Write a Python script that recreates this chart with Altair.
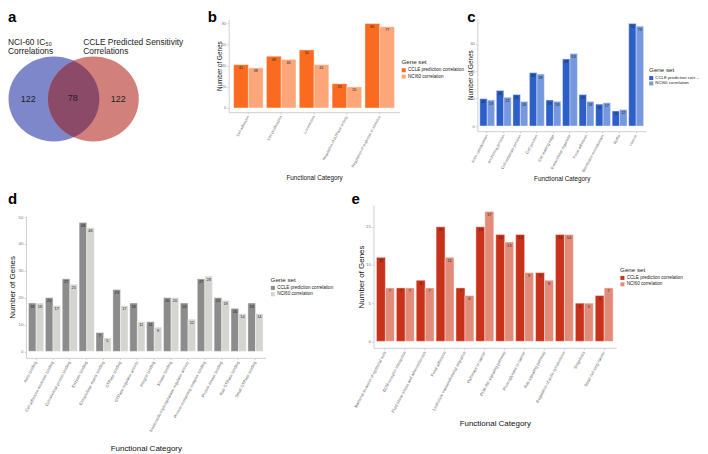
import altair as alt
import pandas as pd

FONT = "Liberation Sans"
SETS = ["CCLE prediction correlation", "NCI60 correlation"]

# ---------------- data ----------------
venn_left_header = ["NCI-60 IC\u2085\u2080", "Correlations"]
venn_right_header = ["CCLE Predicted Sensitivity", "Correlations"]
venn_counts = [122, 78, 122]

b_categories = ["Cell adhesion", "Cell proliferation", "Locomotion",
                "Regulation of GTPase activity", "Regulation of response to stimulus"]
b_ccle = [41, 49, 55, 23, 80]
b_nci = [38, 46, 41, 20, 77]

c_categories = ["Actin cytoskeleton", "Anchoring junction", "Cell-substrate junction",
                "Cell junction", "Cell leading edge", "Extracellular organelle",
                "Focal adhesion", "Membrane microdomain", "Ruffle", "Vesicle"]
c_ccle = [20, 26, 23, 39, 19, 49, 23, 16, 11, 75]
c_nci = [19, 21, 18, 38, 18, 53, 18, 17, 12, 73]

d_categories = ["Actin binding", "Cell adhesion molecule binding", "Cytoskeletal protein binding",
                "Enzyme binding", "Extracellular matrix binding", "GTPase binding",
                "GTPase regulator activity", "Integrin binding", "Kinase binding",
                "Nucleoside-triphosphatase regulator activity", "Protein-containing complex binding",
                "Protein kinase binding", "Ras GTPase binding", "Small GTPase binding"]
d_ccle = [18, 20, 27, 48, 7, 23, 18, 11, 20, 18, 27, 20, 16, 18]
d_nci = [18, 17, 25, 46, 5, 17, 11, 9, 20, 12, 28, 19, 14, 14]

e_categories = ["Bacterial invasion of epithelial cells", "ECM-receptor interaction",
                "Fluid shear stress and atherosclerosis", "Focal adhesion",
                "Leukocyte transendothelial migration", "Pathways in cancer",
                "PI3K-Akt signaling pathway", "Proteoglycans in cancer", "Ras signaling pathway",
                "Regulation of actin cytoskeleton", "Shigellosis", "Small cell lung cancer"]
e_ccle = [11, 7, 8, 15, 7, 15, 14, 14, 9, 14, 5, 6]
e_nci = [7, 7, 7, 11, 6, 17, 13, 9, 8, 14, 5, 7]


def panel_letter(letter, dx, by):
    return alt.Chart(pd.DataFrame({"letter": [letter]})).mark_text(
        fontSize=15, fontWeight="bold", color="#000", align="left",
        baseline="alphabetic", font=FONT
    ).encode(text="letter:N", x=alt.value(dx), y=alt.value(by))


def bar_panel(letter, cats, ccle, nci, colors, plot_w, view_w, plot_top, plot_h, view_h,
              ydom, yticks, legend_xy, ytitle_x, xtitle_y, title_fs, tick_fs, xlab_fs,
              val_fs, letter_xy, label_limit=200, legend_fs=4.6):
    df = pd.DataFrame({
        "Category": list(cats) * 2,
        "Gene set": [SETS[0]] * len(cats) + [SETS[1]] * len(cats),
        "Genes": list(ccle) + list(nci),
    })
    x = alt.X("Category:N", sort=list(cats),
              scale=alt.Scale(range=[0, plot_w], paddingInner=0.1, paddingOuter=0.15),
              axis=alt.Axis(title="Functional Category", labelAngle=-62, labelAlign="right",
                            labelBaseline="middle", labelFontSize=xlab_fs, labelPadding=1.5,
                            labelOverlap=False, labelColor="#666",
                            offset=-(view_h - plot_top - plot_h),
                            titleX=plot_w / 2, titleY=xtitle_y, titleAlign="center",
                            titleBaseline="top", titleFontSize=title_fs,
                            titleFontWeight="normal", titleColor="#111"))
    xo = alt.XOffset("Gene set:N", sort=SETS, scale=alt.Scale(paddingInner=0, paddingOuter=0))
    y = alt.Y("Genes:Q",
              scale=alt.Scale(domain=ydom, nice=False, zero=False,
                              range=[plot_top + plot_h, plot_top]),
              axis=alt.Axis(values=yticks, title="Number of Genes", labelFontSize=tick_fs,
                            labelColor="#777", labelPadding=1,
                            titleX=ytitle_x, titleY=plot_top + plot_h / 2, titleAngle=270,
                            titleAlign="center", titleBaseline="middle",
                            titleFontSize=title_fs, titleFontWeight="normal",
                            titleColor="#111"))
    color = alt.Color("Gene set:N", sort=SETS,
                      scale=alt.Scale(domain=SETS, range=colors),
                      legend=alt.Legend(orient="none", legendX=legend_xy[0], legendY=legend_xy[1],
                                        title="Gene set", titleFontSize=6.2,
                                        titleFontWeight="normal", titleColor="#222",
                                        titlePadding=2.5, labelFontSize=legend_fs,
                                        labelColor="#222", labelLimit=label_limit,
                                        symbolType="square", symbolSize=16,
                                        symbolStrokeWidth=0, rowPadding=0.4, labelOffset=2,
                                        symbolOffset=0, padding=0))
    base = alt.Chart(df)
    bars = base.mark_bar(stroke="white", strokeWidth=0.4).encode(
        x=x, xOffset=xo, y=y, y2=alt.datum(0), color=color)
    labels = base.mark_text(baseline="top", dy=1.5, fontSize=val_fs, color="#222",
                            font=FONT).encode(x=x, xOffset=xo, y=y, text="Genes:Q")
    return alt.layer(bars, labels, panel_letter(letter, *letter_xy)).properties(
        width=view_w, height=view_h)


# ---------------- panel a : Venn ----------------
RX, RY, U = 45.5, 42.5, 50.0
half_d = 19.75
h = RY * (1 - (half_d / RX) ** 2) ** 0.5
ell = "M {a} 0 A {rx} {ry} 0 1 0 {b} 0 A {rx} {ry} 0 1 0 {a} 0 Z".format(
    a=-RX / U, b=RX / U, rx=RX / U, ry=RY / U)
lens = "M 0 {t} A {rx} {ry} 0 0 1 0 {bt} A {rx} {ry} 0 0 1 0 {t} Z".format(
    t=-h / U, bt=h / U, rx=RX / U, ry=RY / U)
cx_left, cx_right, cy = 54.0, 93.5, 95.8

circles = pd.DataFrame({
    "vx": [cx_left, cx_right], "vy": [cy, cy],
    "shape": [ell, ell], "fill": ["#7f87cb", "#d2807b"],
})
lens_df = pd.DataFrame({"vx": [(cx_left + cx_right) / 2], "vy": [cy], "shape": [lens],
                        "fill": ["#8c4a69"]})
counts_df = pd.DataFrame({"vx": [28.3, 72.8, 118.3], "vy": [96.0, 95.0, 96.0],
                          "label": [str(v) for v in venn_counts]})
headers_df = pd.DataFrame({
    "vx": [8.0, 8.0, 83.3, 83.3],
    "vy": [41.7, 51.2, 41.7, 51.2],
    "label": venn_left_header + venn_right_header,
})

vx = alt.X("vx:Q", scale=alt.Scale(domain=[26, 199], range=[0, 173]), axis=None)
vy = alt.Y("vy:Q", scale=alt.Scale(domain=[15, 128], range=[0, 113]), axis=None)

venn_c = alt.Chart(circles).mark_point(filled=True, opacity=1, size=(2 * U) ** 2).encode(
    x=vx, y=vy, shape=alt.Shape("shape:N", scale=None), color=alt.Color("fill:N", scale=None))
venn_l = alt.Chart(lens_df).mark_point(filled=True, opacity=1, size=(2 * U) ** 2).encode(
    x=vx, y=vy, shape=alt.Shape("shape:N", scale=None), color=alt.Color("fill:N", scale=None))
venn_n = alt.Chart(counts_df).mark_text(fontSize=9, color="#222", align="center",
                                        baseline="middle", font=FONT).encode(
    x=vx, y=vy, text="label:N")
venn_h = alt.Chart(headers_df).mark_text(fontSize=8.4, color="#222", align="left",
                                         baseline="alphabetic", font=FONT).encode(
    x=vx, y=vy, text="label:N")
panel_a = alt.layer(venn_c, venn_l, venn_n, venn_h, panel_letter("a", -18, 4)).properties(
    width=173, height=113)

# ---------------- bar panels ----------------
panel_b = bar_panel("b", b_categories, b_ccle, b_nci, ["#fa6a1f", "#fca679"],
                    plot_w=171, view_w=219, plot_top=1, plot_h=93, view_h=113,
                    ydom=[-4, 84], yticks=[0, 20, 40, 60, 80], legend_xy=(173, 41),
                    ytitle_x=-9, xtitle_y=62, title_fs=6.3, tick_fs=4, xlab_fs=3.8,
                    val_fs=3.6, letter_xy=(-21, 4))
panel_c = bar_panel("c", c_categories, c_ccle, c_nci, ["#2d5fcb", "#7598de"],
                    plot_w=169, view_w=169, plot_top=0, plot_h=113, view_h=113,
                    ydom=[-3.75, 78.75], yticks=[0, 20, 40, 60], legend_xy=(172, 49),
                    ytitle_x=-7, xtitle_y=44, title_fs=6.3, tick_fs=4, xlab_fs=3.9,
                    val_fs=3.8, letter_xy=(-10, 4), label_limit=45, legend_fs=4.3)
panel_d = bar_panel("d", d_categories, d_ccle, d_nci, ["#8c8c8c", "#d4d4d0"],
                    plot_w=240, view_w=318, plot_top=11, plot_h=142, view_h=153,
                    ydom=[-2.4, 50.4], yticks=[0, 10, 20, 30, 40, 50], legend_xy=(245, 72),
                    ytitle_x=-13, xtitle_y=87, title_fs=8, tick_fs=4.4, xlab_fs=4.1,
                    val_fs=3.9, letter_xy=(-18, -1))
panel_e = bar_panel("e", e_categories, e_ccle, e_nci, ["#c9321a", "#e28b78"],
                    plot_w=243, view_w=243, plot_top=0, plot_h=143, view_h=143,
                    ydom=[-0.85, 17.85], yticks=[0, 5, 10, 15], legend_xy=(247, 62),
                    ytitle_x=-12, xtitle_y=72, title_fs=8, tick_fs=4.4, xlab_fs=4.1,
                    val_fs=3.9, letter_xy=(-22, -1))

IND = dict(x="independent", y="independent", color="independent",
           xOffset="independent", shape="independent")

row1 = alt.hconcat(panel_a, panel_b, panel_c, spacing=30, bounds="flush").resolve_scale(**IND)
row2 = alt.hconcat(panel_d, panel_e, spacing=30, bounds="flush").resolve_scale(**IND)

chart = alt.vconcat(row1, row2, spacing=10).resolve_scale(**IND).properties(
    padding={"top": 2, "left": 0, "right": 0, "bottom": 0}, background="white"
).configure_view(strokeWidth=0).configure_axis(
    domainColor="#c4c4c4", tickColor="#c4c4c4", tickSize=2, domainWidth=0.8,
    tickWidth=0.7, grid=False, labelFont=FONT, titleFont=FONT
).configure_legend(labelFont=FONT, titleFont=FONT).configure_title(font=FONT)

chart.save("out.html", embed_options={"renderer": "svg", "actions": False})
